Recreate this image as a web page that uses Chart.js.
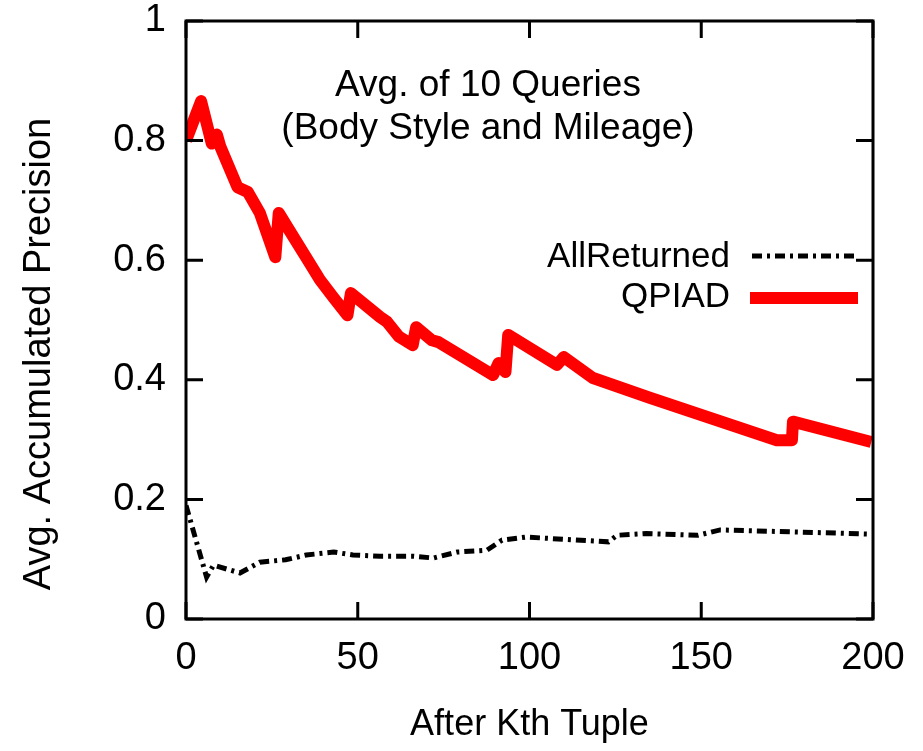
<!DOCTYPE html>
<html>
<head>
<meta charset="utf-8">
<script src="https://cdn.jsdelivr.net/npm/chart.js@4/dist/chart.umd.min.js"></script>
<style>
  html, body { margin: 0; padding: 0; background: #fff; }
  #wrap { width: 923px; height: 751px; position: relative; }
</style>
</head>
<body>
<div id="wrap"><canvas id="chart" width="923" height="751"></canvas></div>
<script>
// values
const qpiadX = [0, 4.4, 7.5, 9, 10, 15, 18, 21.5, 26, 27, 30.3, 36, 39, 43, 47, 48, 56.5, 58.5, 62, 66, 67, 71.6, 73.5, 89.4, 91, 93, 93.8, 108, 110, 118.5, 135, 172, 176.4, 176.7, 199.5];
const qpiadY = [0.80, 0.866, 0.795, 0.81, 0.79, 0.722, 0.714, 0.679, 0.605, 0.679, 0.648, 0.595, 0.567, 0.537, 0.508, 0.545, 0.505, 0.497, 0.472, 0.458, 0.488, 0.466, 0.463, 0.408, 0.428, 0.413, 0.475, 0.425, 0.438, 0.403, 0.37, 0.299, 0.299, 0.33, 0.296];

const allRetX = [0, 6, 8, 15.7, 21.5, 29, 35, 43, 48.6, 56.5, 66, 72, 79, 87.6, 92, 99, 123, 125.5, 134, 149, 155.5, 199.5];
const allRetY = [0.19, 0.07, 0.09, 0.077, 0.095, 0.099, 0.107, 0.112, 0.107, 0.105, 0.105, 0.102, 0.112, 0.115, 0.132, 0.137, 0.129, 0.14, 0.143, 0.14, 0.149, 0.142];

const xTicks = [0, 50, 100, 150, 200];
const yTicks = [0, 0.2, 0.4, 0.6, 0.8, 1];
const yTickLabels = ['0', '0.2', '0.4', '0.6', '0.8', '1'];

const titleLines = ['Avg. of 10 Queries', '(Body Style and Mileage)'];
const seriesNames = ['AllReturned', 'QPIAD'];
const yTitle = 'Avg. Accumulated Precision';
const xTitle = 'After Kth Tuple';

const toPoints = (xs, ys) => xs.map((x, i) => ({ x: x, y: ys[i] }));

const FONT = "'Liberation Sans', Arial, sans-serif";

// frame, inward ticks on all four sides, titles and legend
const gnuplotFrame = {
    id: 'gnuplotFrame',
    afterDraw(chart) {
        const ctx = chart.ctx;
        const a = chart.chartArea;
        const xs = chart.scales.x;
        const ys = chart.scales.y;
        const tick = 17;

        ctx.save();
        ctx.strokeStyle = '#000';
        ctx.lineWidth = 3;
        ctx.strokeRect(a.left, a.top, a.right - a.left, a.bottom - a.top);

        ctx.beginPath();
        xTicks.forEach(v => {
            const px = xs.getPixelForValue(v);
            ctx.moveTo(px, a.bottom); ctx.lineTo(px, a.bottom - tick);
            ctx.moveTo(px, a.top); ctx.lineTo(px, a.top + tick);
        });
        yTicks.forEach(v => {
            const py = ys.getPixelForValue(v);
            ctx.moveTo(a.left, py); ctx.lineTo(a.left + tick, py);
            ctx.moveTo(a.right, py); ctx.lineTo(a.right - tick, py);
        });
        ctx.stroke();

        ctx.fillStyle = '#000';
        ctx.textAlign = 'center';
        ctx.textBaseline = 'middle';

        // title inside the plot
        ctx.font = '37px ' + FONT;
        ctx.fillText(titleLines[0], 488, 86);
        ctx.fillText(titleLines[1], 488, 129);

        // axis titles
        ctx.font = '36px ' + FONT;
        ctx.fillText(xTitle, (a.left + a.right) / 2, 725);
        ctx.save();
        ctx.translate(40, 354);
        ctx.rotate(-Math.PI / 2);
        ctx.font = '38px ' + FONT;
        ctx.fillText(yTitle, 0, 0);
        ctx.restore();

        // legend
        ctx.font = '35px ' + FONT;
        ctx.textAlign = 'right';
        ctx.fillText(seriesNames[0], 730, 257);
        ctx.fillText(seriesNames[1], 730, 297);

        ctx.lineWidth = 5;
        ctx.setLineDash([10, 5, 3, 5]);
        ctx.beginPath();
        ctx.moveTo(752, 256); ctx.lineTo(857, 256);
        ctx.stroke();

        ctx.setLineDash([]);
        ctx.strokeStyle = '#ff0000';
        ctx.lineWidth = 12;
        ctx.beginPath();
        ctx.moveTo(750, 298); ctx.lineTo(858, 298);
        ctx.stroke();
        ctx.restore();
    }
};

const ctx = document.getElementById('chart').getContext('2d');
new Chart(ctx, {
    type: 'line',
    data: {
        datasets: [
            {
                label: seriesNames[0],
                data: toPoints(allRetX, allRetY),
                borderColor: '#000',
                borderWidth: 5,
                borderDash: [10, 5, 3, 5],
                pointRadius: 0,
                tension: 0,
                fill: false
            },
            {
                label: seriesNames[1],
                data: toPoints(qpiadX, qpiadY),
                borderColor: '#ff0000',
                borderWidth: 12,
                borderJoinStyle: 'round',
                borderCapStyle: 'butt',
                pointRadius: 0,
                tension: 0,
                fill: false
            }
        ]
    },
    options: {
        responsive: false,
        animation: false,
        layout: { padding: { left: 0, right: 50, top: 21, bottom: 0 } },
        plugins: {
            legend: { display: false },
            tooltip: { enabled: false }
        },
        scales: {
            x: {
                type: 'linear',
                min: 0,
                max: 200,
                afterFit: (scale) => {
                    scale.height = 132;
                    scale.paddingLeft = 0;
                    scale.paddingRight = 0;
                },
                afterBuildTicks: (scale) => { scale.ticks = xTicks.map(v => ({ value: v })); },
                grid: { display: false, drawTicks: false },
                border: { display: false },
                ticks: {
                    color: '#000',
                    padding: 17,
                    font: { family: FONT, size: 38 },
                    maxRotation: 0
                }
            },
            y: {
                min: 0,
                max: 1,
                afterFit: (scale) => {
                    scale.width = 186;
                    scale.paddingTop = 0;
                    scale.paddingBottom = 0;
                },
                afterBuildTicks: (scale) => { scale.ticks = yTicks.map(v => ({ value: v })); },
                grid: { display: false, drawTicks: false },
                border: { display: false },
                ticks: {
                    color: '#000',
                    padding: 20,
                    font: { family: FONT, size: 38 },
                    callback: (value) => {
                        const i = yTicks.findIndex(t => Math.abs(t - value) < 1e-6);
                        return i >= 0 ? yTickLabels[i] : '';
                    }
                }
            }
        }
    },
    plugins: [gnuplotFrame]
});
</script>
</body>
</html>
